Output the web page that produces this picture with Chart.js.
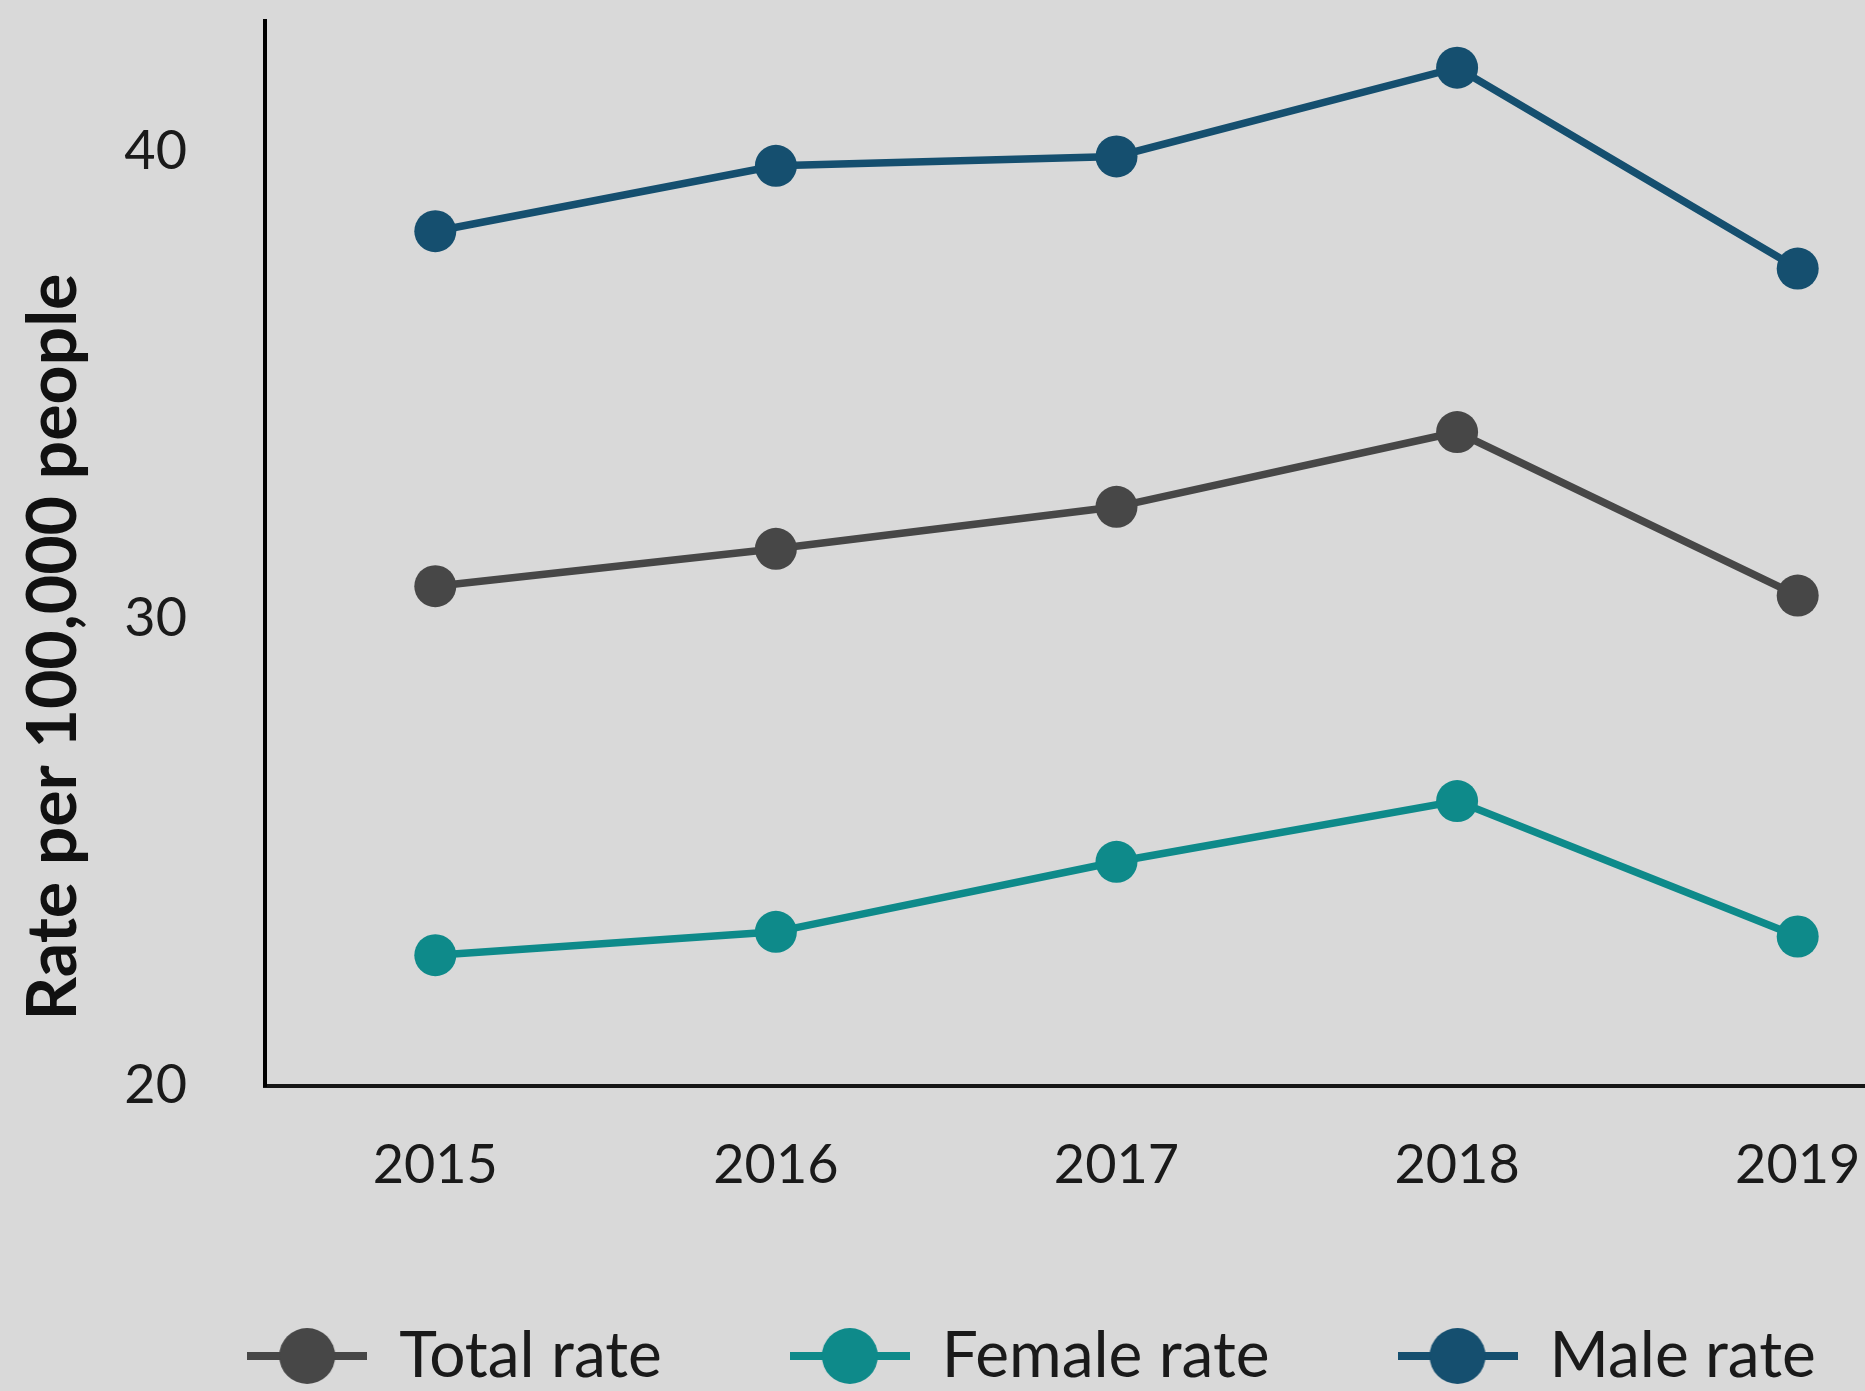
<!DOCTYPE html>
<html>
<head>
<meta charset="utf-8">
<script src="https://cdn.jsdelivr.net/npm/chart.js@4/dist/chart.umd.min.js"></script>
<style>
  html, body { margin: 0; padding: 0; background: #d9d9d9; overflow: hidden; width: 1865px; height: 1391px; }
  #wrap { position: absolute; left: 0; top: 0; width: 2080px; height: 1400px; }
</style>
</head>
<body>
<div id="wrap"><canvas id="c"></canvas></div>
<script>
const years = ['2015', '2016', '2017', '2018', '2019'];
const totalRate = [30.7, 31.5, 32.4, 34.0, 30.5];
const femaleRate = [22.8, 23.3, 24.8, 26.1, 23.2];
const maleRate = [38.3, 39.7, 39.9, 41.8, 37.5];
const seriesNames = ['Total rate', 'Female rate', 'Male rate'];
const yTickValues = [20, 30, 40];
const yAxisTitle = 'Rate per 100,000 people';

const colors = ['#474747', '#0e8a8a', '#154f6f'];
const seriesData = [totalRate, femaleRate, maleRate];

function legendIcon(color) {
  const c = document.createElement('canvas');
  c.width = 120; c.height = 58;
  const g = c.getContext('2d');
  g.strokeStyle = color; g.lineWidth = 8;
  g.beginPath(); g.moveTo(0, 29); g.lineTo(120, 29); g.stroke();
  g.fillStyle = color;
  g.beginPath(); g.arc(60, 29, 28, 0, Math.PI * 2); g.fill();
  return c;
}
const icons = colors.map(legendIcon);

// shift the axis title toward the bottom as in the reference (padding spaces at its top end)
const titleShift = '\u2003\u2003\u2003\u2002';

const chart = new Chart(document.getElementById('c'), {
  type: 'line',
  data: {
    labels: years,
    datasets: seriesNames.map((name, i) => ({
      label: name,
      data: seriesData[i],
      borderColor: colors[i],
      backgroundColor: colors[i],
      borderWidth: 7.5,
      pointRadius: 21,
      pointHoverRadius: 21,
      pointBorderWidth: 0,
      pointBackgroundColor: colors[i],
      tension: 0,
      fill: false
    }))
  },
  options: {
    responsive: true,
    maintainAspectRatio: false,
    animation: false,
    events: [],
    layout: { padding: { left: 95, right: 112, top: 18, bottom: 2 } },
    plugins: {
      tooltip: { enabled: false },
      title: { display: false },
      legend: {
        position: 'bottom',
        labels: {
          usePointStyle: true,
          pointStyleWidth: 120,
          padding: 128,
          color: '#1a1a1a',
          font: { family: 'Lato', size: 64 },
          generateLabels: (ch) => ch.data.datasets.map((ds, i) => ({
            text: ds.label,
            fillStyle: colors[i],
            strokeStyle: colors[i],
            lineWidth: 0,
            pointStyle: icons[i],
            hidden: false,
            datasetIndex: i,
            fontColor: '#1a1a1a'
          }))
        }
      }
    },
    scales: {
      x: {
        offset: true,
        grid: { display: false, drawTicks: false },
        border: { display: true, color: '#161616', width: 4 },
        ticks: { color: '#1a1a1a', font: { family: 'Lato', size: 54 }, padding: 47, maxRotation: 0 },
        afterFit: (s) => { s.height = 110; }
      },
      y: {
        min: 20,
        max: 42.8,
        grid: { display: false, drawTicks: false },
        border: { display: true, color: '#000', width: 4 },
        ticks: { color: '#1a1a1a', font: { family: 'Lato', size: 54 }, padding: 78, stepSize: 10 },
        afterBuildTicks: (s) => { s.ticks = yTickValues.map(v => ({ value: v })); },
        title: {
          display: true,
          text: yAxisTitle + titleShift,
          color: '#111',
          font: { family: 'Lato', size: 68, weight: 'bold', lineHeight: 1 },
          padding: { top: -75, bottom: 0 }
        },
        afterFit: (s) => { s.width = 170; s.paddingTop = 0; s.paddingBottom = 0; }
      }
    }
  }
});
</script>
</body>
</html>
